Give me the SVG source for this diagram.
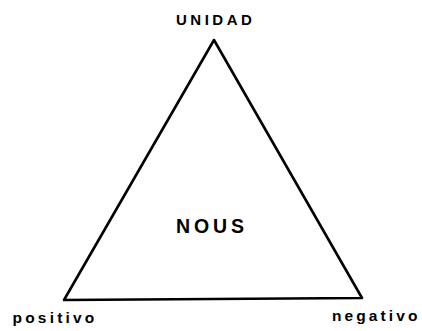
<svg xmlns="http://www.w3.org/2000/svg" width="422" height="331" viewBox="0 0 422 331">
<style>
.t{font-family:"Liberation Sans",Arial,sans-serif;font-weight:bold;fill:#000}
.edge{fill:none;stroke:#000;stroke-width:2.6;stroke-linejoin:round}
</style>
<rect width="422" height="331" fill="#fff"/>
<g id="connectors">
<path class="edge" d="M214,40 L64,300 L362,298 Z"/>
</g>
<g id="unidad"><text class="t" x="176" y="24.5" font-size="15" letter-spacing="3.5">UNIDAD</text></g>
<g id="nous"><text class="t" x="176" y="232.5" font-size="19.5" letter-spacing="3.9">NOUS</text></g>
<g id="positivo"><text class="t" x="12.5" y="323" font-size="15.5" letter-spacing="3.2">positivo</text></g>
<g id="negativo"><text class="t" x="332" y="320.5" font-size="15.5" letter-spacing="3.1">negativo</text></g>
</svg>
